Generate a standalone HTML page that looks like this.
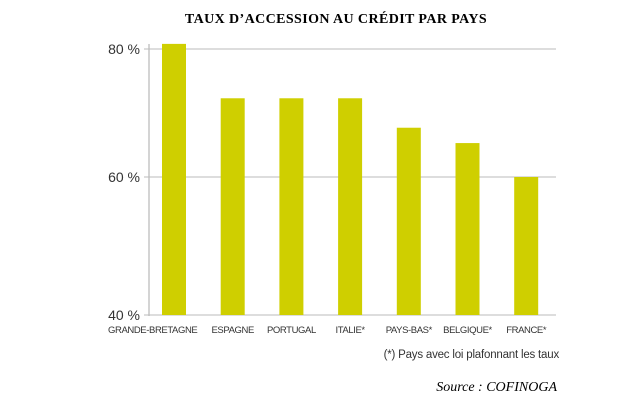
<!DOCTYPE html>
<html><head><meta charset="utf-8"><style>
body{margin:0;background:#fff;width:627px;height:403px;overflow:hidden}
svg{display:block}
</style></head><body>
<svg width="627" height="403" id="c">
<text x="336" y="23" text-anchor="middle" font-family="Liberation Serif" font-weight="bold" font-size="14" letter-spacing="0.4">TAUX D’ACCESSION AU CRÉDIT PAR PAYS</text>
<g id="grid"></g><g id="bars"></g><g id="labels"></g>
<text x="559" y="358" text-anchor="end" font-family="Liberation Sans" font-size="11.5" fill="#333" letter-spacing="-0.2">(*) Pays avec loi plafonnant les taux</text>
<text x="557" y="391" text-anchor="end" font-family="Liberation Serif" font-style="italic" font-size="14">Source : COFINOGA</text>
</svg>
<script>
const categories=["GRANDE-BRETAGNE","ESPAGNE","PORTUGAL","ITALIE*","PAYS-BAS*","BELGIQUE*","FRANCE*"];
const values=[80.8,72.3,72.3,72.3,67.7,65.3,60];
const ticks=[40,60,80];
const tickLabels=["40 %","60 %","80 %"];
const NS="http://www.w3.org/2000/svg";
function y(v){
  if(v<=60) return 315-(v-40)*(315-177)/20;
  return 177-(v-60)*(177-49)/20;
}
function x(i){return 174+i*58.7;}
function mk(t,a,p){const e=document.createElementNS(NS,t);for(const k in a)e.setAttribute(k,a[k]);p.appendChild(e);return e;}
const g=document.getElementById('grid'),b=document.getElementById('bars'),l=document.getElementById('labels');
const ax=mk('line',{x1:149,x2:149,y1:44,y2:316,stroke:'#aaa'},g);


ticks.forEach((t,i)=>{
  const ln=mk('line',{x1:144,x2:556,y1:y(t),y2:y(t),stroke:'#bbb'},g);
  
  
  const tx=mk('text',{x:140,y:y(t)+5,'text-anchor':'end','font-family':'Liberation Sans','font-size':14,fill:'#333'},g);
  tx.textContent=tickLabels[i];
  
  
});
categories.forEach((c,i)=>{
  const r=mk('rect',{x:x(i)-12,y:y(values[i]),width:24,height:315-y(values[i]),fill:'#cfcf00'},b);
  
  
  const first=i===0;
  const tx=mk('text',{x:first?108:x(i),y:333,'text-anchor':first?'start':'middle','font-family':'Liberation Sans','font-size':9.5,fill:'#333','letter-spacing':'-0.4'},l);
  tx.textContent=c;
  
  
});
</script>
</body></html>
